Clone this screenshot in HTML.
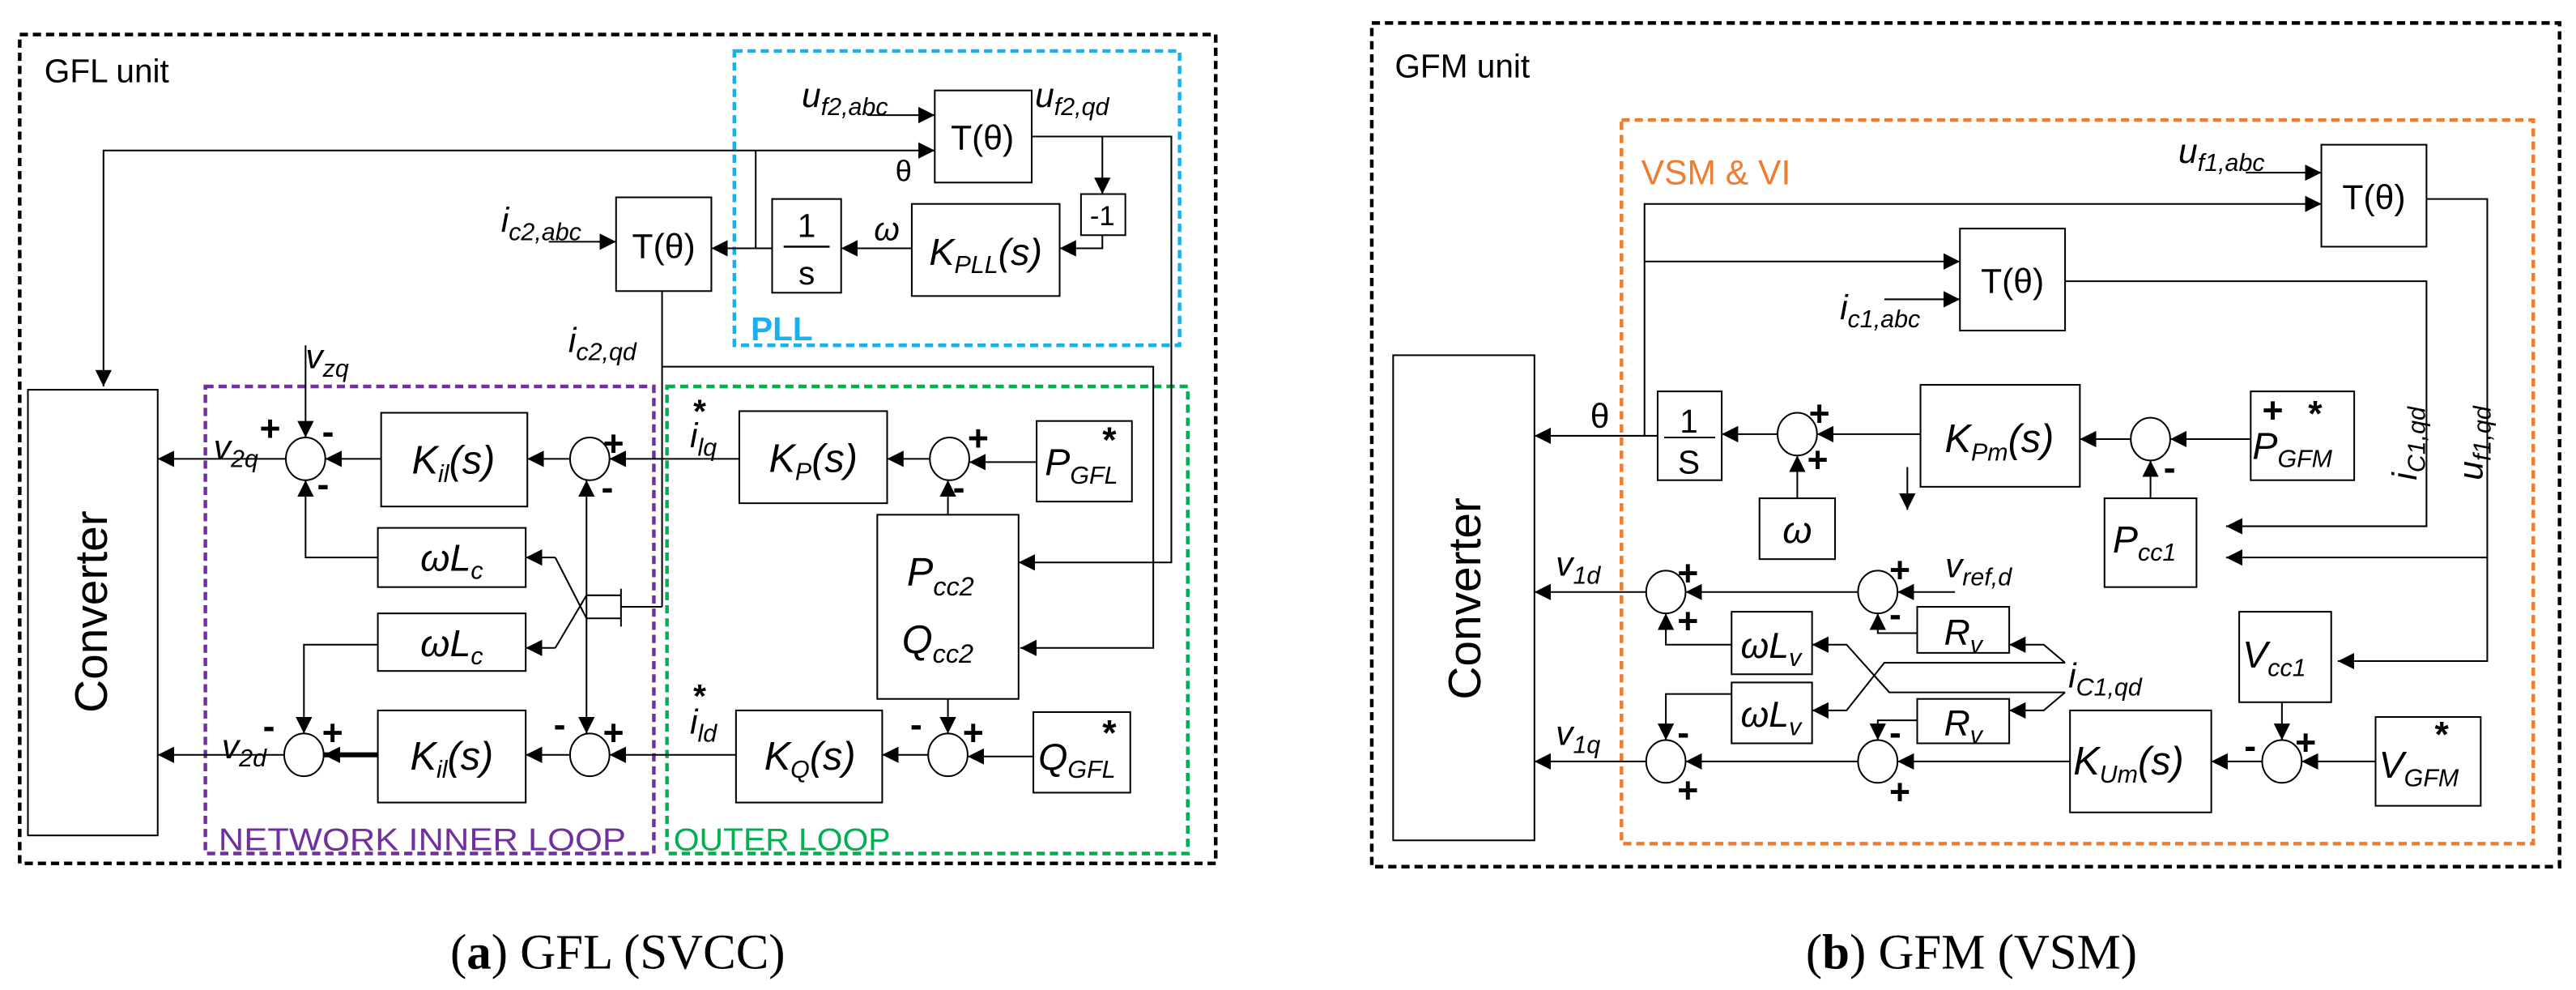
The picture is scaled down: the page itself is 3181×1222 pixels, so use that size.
<!DOCTYPE html>
<html><head><meta charset="utf-8"><style>
html,body{margin:0;padding:0;background:#fff;}
svg{display:block;}
text{font-family:"Liberation Sans",sans-serif;fill:#000;}
.v{font-style:italic;}
.s{font-weight:bold;font-size:22px;}
</style></head><body>
<svg width="3181" height="1222" viewBox="0 0 1568 602" preserveAspectRatio="none" xmlns="http://www.w3.org/2000/svg">
<defs>
<marker id="a" viewBox="0 0 10 10" refX="10" refY="5" markerWidth="10" markerHeight="10" markerUnits="userSpaceOnUse" orient="auto"><path d="M0,0 L10,5 L0,10 z" fill="#000"/></marker>
</defs>
<g fill="none" stroke="#000" stroke-width="1">
<rect x="12" y="21" width="728" height="504" stroke-width="2.2" stroke-dasharray="5,3"/>
<rect x="447" y="31" width="271" height="179" stroke="#1ab0ec" stroke-width="2.2" stroke-dasharray="5,3"/>
<rect x="125" y="235" width="273" height="284" stroke="#7030a0" stroke-width="2.2" stroke-dasharray="5,3"/>
<rect x="406" y="235" width="317" height="284" stroke="#00b050" stroke-width="2.2" stroke-dasharray="5,3"/>
<rect x="569" y="55" width="59" height="56"/>
<rect x="658" y="118" width="27" height="25"/>
<rect x="555" y="124" width="90" height="56"/>
<rect x="470" y="121" width="42" height="57"/>
<rect x="375" y="120" width="58" height="57"/>
<rect x="17" y="237" width="79" height="271"/>
<rect x="232" y="251" width="89" height="57"/>
<rect x="450" y="250" width="90" height="56"/>
<rect x="631" y="256" width="58" height="49"/>
<rect x="534" y="313" width="86" height="112"/>
<rect x="230" y="321" width="90" height="36"/>
<rect x="230" y="373" width="90" height="35"/>
<rect x="230" y="432" width="90" height="56"/>
<rect x="448" y="432" width="89" height="56"/>
<rect x="629" y="433" width="59" height="49"/>
<ellipse cx="186" cy="279" rx="12" ry="13"/>
<ellipse cx="359" cy="279" rx="12" ry="13"/>
<ellipse cx="578" cy="279" rx="12" ry="13"/>
<ellipse cx="185" cy="459" rx="12" ry="13"/>
<ellipse cx="359" cy="459" rx="12" ry="13"/>
<ellipse cx="577" cy="459" rx="12" ry="13"/>
<path d="M528,70 H569" marker-end="url(#a)"/>
<path d="M460,91.5 H569" marker-end="url(#a)"/>
<path d="M460,91.5 H63 V235" marker-end="url(#a)"/>
<path d="M460,91.5 V151"/>
<path d="M628,83 H713 V342 H620" marker-end="url(#a)"/>
<path d="M671,83 V118" marker-end="url(#a)"/>
<path d="M671,143 V151 H645" marker-end="url(#a)"/>
<path d="M555,151 H512" marker-end="url(#a)"/>
<path d="M470,151 H433" marker-end="url(#a)"/>
<path d="M334,147 H375" marker-end="url(#a)"/>
<path d="M403,177 V369"/>
<path d="M403,223 H702 V394 H621" marker-end="url(#a)"/>
<path d="M631,281 H590" marker-end="url(#a)"/>
<path d="M566,279 H540" marker-end="url(#a)"/>
<path d="M450,279 H371" marker-end="url(#a)"/>
<path d="M347,279 H321" marker-end="url(#a)"/>
<path d="M232,279 H198" marker-end="url(#a)"/>
<path d="M174,279 H96" marker-end="url(#a)"/>
<path d="M577,313 V292" marker-end="url(#a)"/>
<path d="M186,210 V266" marker-end="url(#a)"/>
<path d="M230,339 H186 V292" marker-end="url(#a)"/>
<path d="M230,392 H185 V446" marker-end="url(#a)"/>
<path d="M357,300 V292" marker-end="url(#a)"/>
<path d="M357,300 V446" marker-end="url(#a)"/>
<path d="M338,339 L357,376 H378"/><path d="M338,339 H320" marker-end="url(#a)"/>
<path d="M338,394 L357,362 H378"/><path d="M338,394 H320" marker-end="url(#a)"/>
<path d="M378,358 V381 M378,369 H403"/>
<path d="M629,460 H589" marker-end="url(#a)"/>
<path d="M565,459 H537" marker-end="url(#a)"/>
<path d="M448,459 H371" marker-end="url(#a)"/>
<path d="M347,459 H320" marker-end="url(#a)"/>
<path d="M230,459 H197" stroke-width="3" marker-end="url(#a)"/>
<path d="M173,459 H96" marker-end="url(#a)"/>
<path d="M577,425 V446" marker-end="url(#a)"/>

<rect x="835" y="14" width="723" height="513" stroke-width="2.2" stroke-dasharray="5,3"/>
<rect x="987" y="73" width="555" height="440" stroke="#ed7d31" stroke-width="2.2" stroke-dasharray="5,3"/>
<rect x="848" y="216" width="86" height="295"/>
<rect x="1413" y="88" width="64" height="62"/>
<rect x="1193" y="139" width="64" height="62"/>
<rect x="1009" y="238" width="39" height="54"/>
<rect x="1071" y="303" width="46" height="37"/>
<rect x="1169" y="234" width="97" height="62"/>
<rect x="1370" y="238" width="63" height="54"/>
<rect x="1281" y="303" width="56" height="54"/>
<rect x="1167" y="369" width="56" height="28"/>
<rect x="1054" y="372" width="49" height="38"/>
<rect x="1054" y="415" width="49" height="37"/>
<rect x="1167" y="425" width="56" height="27"/>
<rect x="1260" y="432" width="86" height="62"/>
<rect x="1363" y="372" width="56" height="55"/>
<rect x="1446" y="436" width="64" height="54"/>
<ellipse cx="1094" cy="264" rx="12" ry="13"/>
<ellipse cx="1309" cy="267" rx="12" ry="13"/>
<ellipse cx="1014" cy="360" rx="12" ry="13"/>
<ellipse cx="1143" cy="360" rx="12" ry="13"/>
<ellipse cx="1014" cy="463" rx="12" ry="13"/>
<ellipse cx="1143" cy="463" rx="12" ry="13"/>
<ellipse cx="1389" cy="463" rx="12" ry="13"/>
<path d="M1367,105 H1413" marker-end="url(#a)"/>
<path d="M1001,265 V124 H1413" marker-end="url(#a)"/>
<path d="M1001,159 H1193" marker-end="url(#a)"/>
<path d="M1147,182 H1193" marker-end="url(#a)"/>
<path d="M1257,171 H1477 V320 H1355" marker-end="url(#a)"/>
<path d="M1477,121 H1514 V402 H1423" marker-end="url(#a)"/>
<path d="M1514,339 H1355" marker-end="url(#a)"/>
<path d="M1009,265 H934" marker-end="url(#a)"/>
<path d="M1082,264 H1048" marker-end="url(#a)"/>
<path d="M1169,264 H1106" marker-end="url(#a)"/>
<path d="M1094,303 V277" marker-end="url(#a)"/>
<path d="M1161,284 V310" marker-end="url(#a)"/>
<path d="M1370,267 H1321" marker-end="url(#a)"/>
<path d="M1297,267 H1266" marker-end="url(#a)"/>
<path d="M1309,303 V280" marker-end="url(#a)"/>
<path d="M1190,360 H1155" marker-end="url(#a)"/>
<path d="M1131,360 H1026" marker-end="url(#a)"/>
<path d="M1002,360 H934" marker-end="url(#a)"/>
<path d="M1167,385 H1143 V373" marker-end="url(#a)"/>
<path d="M1054,392 H1014 V373" marker-end="url(#a)"/>
<path d="M1054,422 H1014 V450" marker-end="url(#a)"/>
<path d="M1167,438 H1143 V450" marker-end="url(#a)"/>
<path d="M1260,463 H1155" marker-end="url(#a)"/>
<path d="M1131,463 H1026" marker-end="url(#a)"/>
<path d="M1002,463 H934" marker-end="url(#a)"/>
<path d="M1377,463 H1346" marker-end="url(#a)"/>
<path d="M1446,463 H1401" marker-end="url(#a)"/>
<path d="M1389,427 V450" marker-end="url(#a)"/>
<path d="M1257,403 L1244,392 H1223" marker-end="url(#a)"/>
<path d="M1257,421 L1244,432 H1223" marker-end="url(#a)"/>
<path d="M1257,403 H1147 L1124,432 H1103" marker-end="url(#a)"/>
<path d="M1257,421 H1150 L1124,392 H1103" marker-end="url(#a)"/>
</g>

<text x="27" y="50" font-size="20">GFL unit</text>
<text x="457" y="207" font-size="20" font-weight="bold" style="fill:#1ab0ec">PLL</text>
<text x="133" y="517" font-size="19" style="fill:#7030a0" textLength="248" lengthAdjust="spacingAndGlyphs">NETWORK INNER LOOP</text>
<text x="410" y="517" font-size="19" style="fill:#00b050" textLength="132" lengthAdjust="spacingAndGlyphs">OUTER LOOP</text>
<text x="488" y="65" font-size="21" class="v">u<tspan font-size="15" dy="5">f2,abc</tspan></text>
<text x="630" y="65" font-size="21" class="v">u<tspan font-size="15" dy="5">f2,qd</tspan></text>
<text x="545" y="110" font-size="18">θ</text>
<text x="598" y="91" font-size="21" text-anchor="middle">T(θ)</text>
<text x="671" y="137" font-size="17" text-anchor="middle">-1</text>
<text x="600" y="161" font-size="23" class="v" text-anchor="middle">K<tspan font-size="15" dy="5">PLL</tspan><tspan dy="-5">(s)</tspan></text>
<text x="532" y="146" font-size="20" class="v">ω</text>
<text x="491" y="144" font-size="20" text-anchor="middle">1</text>
<path d="M477,150 H505" stroke="#000" stroke-width="1.2"/>
<text x="491" y="173" font-size="20" text-anchor="middle">s</text>
<text x="404" y="157" font-size="21" text-anchor="middle">T(θ)</text>
<text x="305" y="141" font-size="21" class="v">i<tspan font-size="15" dy="5">c2,abc</tspan></text>
<text x="346" y="214" font-size="21" class="v">i<tspan font-size="15" dy="5">c2,qd</tspan></text>
<text x="186" y="224" font-size="21" class="v">v<tspan font-size="15" dy="5">zq</tspan></text>
<text x="130" y="279" font-size="21" class="v">v<tspan font-size="15" dy="5">2q</tspan></text>
<text x="135" y="461" font-size="21" class="v">v<tspan font-size="15" dy="5">2d</tspan></text>
<text x="276" y="288" font-size="24" class="v" text-anchor="middle">K<tspan font-size="15" dy="5">il</tspan><tspan dy="-5">(s)</tspan></text>
<text x="275" y="468" font-size="24" class="v" text-anchor="middle">K<tspan font-size="15" dy="5">il</tspan><tspan dy="-5">(s)</tspan></text>
<text x="275" y="347" font-size="23" class="v" text-anchor="middle">ωL<tspan font-size="15" dy="5">c</tspan></text>
<text x="275" y="399" font-size="23" class="v" text-anchor="middle">ωL<tspan font-size="15" dy="5">c</tspan></text>
<text x="495" y="287" font-size="24" class="v" text-anchor="middle">K<tspan font-size="15" dy="5">P</tspan><tspan dy="-5">(s)</tspan></text>
<text x="493" y="468" font-size="24" class="v" text-anchor="middle">K<tspan font-size="15" dy="5">Q</tspan><tspan dy="-5">(s)</tspan></text>
<text x="636" y="289" font-size="23" class="v">P<tspan font-size="15" dy="5">GFL</tspan></text>
<text x="671" y="275" font-size="22" font-weight="bold">*</text>
<text x="632" y="468" font-size="23" class="v">Q<tspan font-size="15" dy="5">GFL</tspan></text>
<text x="671" y="453" font-size="22" font-weight="bold">*</text>
<text x="552" y="356" font-size="24" class="v">P<tspan font-size="16" dy="6">cc2</tspan></text>
<text x="549" y="397" font-size="24" class="v">Q<tspan font-size="16" dy="6">cc2</tspan></text>
<text x="420" y="272" font-size="21" class="v">i<tspan font-size="15" dy="5">lq</tspan></text>
<text x="422" y="257" font-size="20" font-weight="bold">*</text>
<text x="420" y="446" font-size="21" class="v">i<tspan font-size="15" dy="5">ld</tspan></text>
<text x="422" y="430" font-size="20" font-weight="bold">*</text>
<text x="158" y="268" class="s">+</text><text x="196" y="270" class="s">-</text><text x="193" y="302" class="s">-</text>
<text x="367" y="277" class="s">+</text><text x="366" y="304" class="s">-</text>
<text x="589" y="274" class="s">+</text><text x="580" y="304" class="s">-</text>
<text x="160" y="449" class="s">-</text><text x="196" y="453" class="s">+</text>
<text x="337" y="448" class="s">-</text><text x="367" y="453" class="s">+</text>
<text x="554" y="448" class="s">-</text><text x="586" y="453" class="s">+</text>
<text transform="translate(65,372) rotate(-90)" font-size="28" text-anchor="middle">Converter</text>
<text x="376" y="589" font-size="30" text-anchor="middle" style="font-family:'Liberation Serif',serif">(<tspan font-weight="bold">a</tspan>) GFL (SVCC)</text>

<text x="849" y="47" font-size="20">GFM unit</text>
<text x="999" y="112" font-size="21" style="fill:#ed7d31">VSM &amp; VI</text>
<text x="1326" y="99" font-size="21" class="v">u<tspan font-size="15" dy="5">f1,abc</tspan></text>
<text x="1445" y="127" font-size="21" text-anchor="middle">T(θ)</text>
<text x="1225" y="178" font-size="21" text-anchor="middle">T(θ)</text>
<text x="1120" y="194" font-size="21" class="v">i<tspan font-size="15" dy="5">c1,abc</tspan></text>
<text x="968" y="260" font-size="21">θ</text>
<text x="1028" y="263" font-size="20" text-anchor="middle">1</text>
<path d="M1013,266 H1044" stroke="#000" stroke-width="1"/>
<text x="1028" y="288" font-size="20" text-anchor="middle">S</text>
<text x="1094" y="330" font-size="23" class="v" text-anchor="middle">ω</text>
<text x="1217" y="275" font-size="24" class="v" text-anchor="middle">K<tspan font-size="15" dy="5">Pm</tspan><tspan dy="-5">(s)</tspan></text>
<text x="1371" y="279" font-size="23" class="v">P<tspan font-size="15" dy="5">GFM</tspan></text>
<text x="1377" y="257" class="s">+</text><text x="1405" y="259" font-size="22" font-weight="bold">*</text>
<text x="1286" y="336" font-size="23" class="v">P<tspan font-size="15" dy="5">cc1</tspan></text>
<text x="1365" y="406" font-size="23" class="v">V<tspan font-size="15" dy="5">cc1</tspan></text>
<text x="1448" y="473" font-size="23" class="v">V<tspan font-size="15" dy="5">GFM</tspan></text>
<text x="1482" y="454" font-size="22" font-weight="bold">*</text>
<text x="1262" y="471" font-size="24" class="v">K<tspan font-size="15" dy="5">Um</tspan><tspan dy="-5">(s)</tspan></text>
<text x="1184" y="351" font-size="21" class="v">v<tspan font-size="15" dy="5">ref,d</tspan></text>
<text x="1195" y="392" font-size="22" class="v" text-anchor="middle">R<tspan font-size="15" dy="5">v</tspan></text>
<text x="1195" y="447" font-size="22" class="v" text-anchor="middle">R<tspan font-size="15" dy="5">v</tspan></text>
<text x="1078" y="400" font-size="22" class="v" text-anchor="middle">ωL<tspan font-size="15" dy="5">v</tspan></text>
<text x="1078" y="442" font-size="22" class="v" text-anchor="middle">ωL<tspan font-size="15" dy="5">v</tspan></text>
<text x="1259" y="418" font-size="21" class="v">i<tspan font-size="15" dy="5">C1,qd</tspan></text>
<text x="947" y="350" font-size="21" class="v">v<tspan font-size="15" dy="5">1d</tspan></text>
<text x="947" y="453" font-size="21" class="v">v<tspan font-size="15" dy="5">1q</tspan></text>
<text transform="translate(1471,292) rotate(-90)" font-size="21" class="v">i<tspan font-size="15" dy="5">C1,qd</tspan></text>
<text transform="translate(1511,292) rotate(-90)" font-size="21" class="v">u<tspan font-size="15" dy="5">f1,qd</tspan></text>
<text x="1101" y="259" class="s">+</text><text x="1100" y="287" class="s">+</text>
<text x="1317" y="292" class="s">-</text>
<text x="1021" y="356" class="s">+</text><text x="1021" y="385" class="s">+</text>
<text x="1150" y="354" class="s">+</text><text x="1150" y="381" class="s">-</text>
<text x="1021" y="453" class="s">-</text><text x="1021" y="488" class="s">+</text>
<text x="1150" y="453" class="s">-</text><text x="1150" y="489" class="s">+</text>
<text x="1366" y="461" class="s">-</text><text x="1397" y="459" class="s">+</text>
<text transform="translate(901,364) rotate(-90)" font-size="28" text-anchor="middle">Converter</text>
<text x="1200" y="589" font-size="30" text-anchor="middle" style="font-family:'Liberation Serif',serif">(<tspan font-weight="bold">b</tspan>) GFM (VSM)</text>
</svg>
</body></html>
